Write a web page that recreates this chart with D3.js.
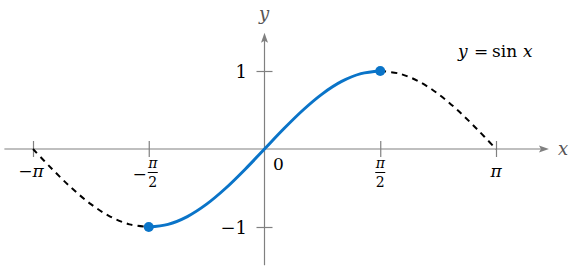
<!DOCTYPE html>
<html>
<head>
<meta charset="utf-8">
<script src="https://cdn.jsdelivr.net/npm/d3@7"></script>
<style>
  body { margin: 0; background: #fff; }
</style>
</head>
<body>
<svg id="chart" width="582" height="271" font-family="'DejaVu Serif', serif"></svg>
<script>
// curve samples, x in steps of pi/12 (k), y = values
const kSteps = [-12, -11, -10, -9, -8, -7, -6, -5, -4, -3, -2, -1, 0, 1, 2, 3, 4, 5, 6, 7, 8, 9, 10, 11, 12];
const yValues = [0, -0.259, -0.5, -0.707, -0.866, -0.966, -1, -0.966, -0.866, -0.707, -0.5, -0.259, 0,
                 0.259, 0.5, 0.707, 0.866, 0.966, 1, 0.966, 0.866, 0.707, 0.5, 0.259, 0];
const xTickK = [-12, -6, 0, 6, 12];
const xTickLabels = ["−π", "−π/2", "", "π/2", "π"];
const yTicks = [-1, 1];
const yTickLabels = ["−1", "1"];
const dotK = [-6, 6];

const PI = Math.PI;
const pts = kSteps.map((k, i) => ({ x: k * PI / 12, y: yValues[i] }));

const svg = d3.select("#chart");
const x = d3.scaleLinear().domain([-PI, PI]).range([33, 496]);
const y = d3.scaleLinear().domain([-1, 1]).range([227, 71]);
const axisCol = "#808080";

// axes lines
svg.append("line")
    .attr("x1", x(-3.53)).attr("x2", x(3.76))
    .attr("y1", y(0)).attr("y2", y(0))
    .attr("stroke", axisCol).attr("stroke-width", 1.2);
svg.append("path")
    .attr("d", `M${x(3.86)},${y(0)} L${x(3.86) - 10},${y(0) - 3.5} L${x(3.86) - 8},${y(0)} L${x(3.86) - 10},${y(0) + 3.5} Z`)
    .attr("fill", axisCol);
svg.append("line")
    .attr("x1", x(0)).attr("x2", x(0))
    .attr("y1", y(-1.49)).attr("y2", y(1.4))
    .attr("stroke", axisCol).attr("stroke-width", 1.2);
svg.append("path")
    .attr("d", `M${x(0)},${y(1.49)} L${x(0) - 3.5},${y(1.49) + 10} L${x(0)},${y(1.49) + 8} L${x(0) + 3.5},${y(1.49) + 10} Z`)
    .attr("fill", axisCol);

// cross ticks via axis generators
svg.append("g")
    .attr("transform", `translate(0,${y(0) - 8})`)
    .call(d3.axisBottom(x).tickValues(xTickK.map(k => k * PI / 12)).tickSize(16).tickSizeOuter(0).tickFormat(""))
    .call(g => g.select(".domain").remove())
    .call(g => g.selectAll("line").attr("stroke", axisCol).attr("stroke-width", 1.2))
    .call(g => g.selectAll(".tick").filter(d => d === 0).remove());
svg.append("g")
    .attr("transform", `translate(${x(0) + 8},0)`)
    .call(d3.axisLeft(y).tickValues(yTicks).tickSize(16).tickSizeOuter(0).tickFormat(""))
    .call(g => g.select(".domain").remove())
    .call(g => g.selectAll("line").attr("stroke", axisCol).attr("stroke-width", 1.2));

// x tick labels
xTickK.forEach((k, i) => {
  const lab = xTickLabels[i];
  if (!lab) return;
  const cx = x(k * PI / 12);
  const neg = lab.startsWith("−");
  if (lab.includes("/2")) {
    const fx = cx + (neg ? 4 : 0);
    if (neg) svg.append("text").attr("x", fx - 6).attr("y", 180).attr("text-anchor", "end")
      .attr("font-size", 17).text("−");
    svg.append("text").attr("x", fx).attr("y", 168).attr("text-anchor", "middle")
      .attr("font-size", 14).attr("font-style", "italic").text("π");
    svg.append("line").attr("x1", fx - 5).attr("x2", fx + 5).attr("y1", 172.5).attr("y2", 172.5)
      .attr("stroke", "#000").attr("stroke-width", 1);
    svg.append("text").attr("x", fx).attr("y", 187).attr("text-anchor", "middle")
      .attr("font-size", 14).text("2");
  } else {
    const t = svg.append("text").attr("x", cx - (neg ? 2 : 0)).attr("y", 177)
      .attr("text-anchor", "middle").attr("font-size", 17);
    if (neg) t.append("tspan").text("−");
    t.append("tspan").attr("font-style", "italic").text("π");
  }
});
svg.append("text").attr("x", 273).attr("y", 170).attr("font-size", 17).text("0");

// y tick labels
yTicks.forEach((v, i) => {
  svg.append("text").attr("x", 247).attr("y", y(v) + 7).attr("text-anchor", "end")
    .attr("font-size", 18).text(yTickLabels[i]);
});

// axis names
svg.append("text").attr("x", 264).attr("y", 20).attr("text-anchor", "middle")
  .attr("font-size", 18).attr("font-style", "italic").attr("fill", "#555").text("y");
svg.append("text").attr("x", 563).attr("y", 155).attr("text-anchor", "middle")
  .attr("font-size", 18).attr("font-style", "italic").attr("fill", "#555").text("x");

// legend
const leg = svg.append("text").attr("y", 57).attr("font-size", 17);
leg.append("tspan").attr("x", 458).attr("font-style", "italic").text("y");
leg.append("tspan").attr("x", 474).text("=");
leg.append("tspan").attr("x", 492).text("sin");
leg.append("tspan").attr("x", 523).attr("font-style", "italic").text("x");

// curve
const line = d3.line().x(d => x(d.x)).y(d => y(d.y)).curve(d3.curveCatmullRom);
const left = pts.filter(d => d.x <= -PI / 2 + 1e-9);
const mid = pts.filter(d => d.x >= -PI / 2 - 1e-9 && d.x <= PI / 2 + 1e-9);
const right = pts.filter(d => d.x >= PI / 2 - 1e-9);
[left, right].forEach(seg => {
  svg.append("path").datum(seg).attr("d", line)
    .attr("fill", "none").attr("stroke", "#000").attr("stroke-width", 2)
    .attr("stroke-dasharray", "6,5");
});
svg.append("path").datum(mid).attr("d", line)
  .attr("fill", "none").attr("stroke", "#0a74c8").attr("stroke-width", 3);

svg.selectAll(".dot").data(dotK).join("circle")
  .attr("cx", k => x(k * PI / 12))
  .attr("cy", k => y(yValues[kSteps.indexOf(k)]))
  .attr("r", 5).attr("fill", "#0a74c8");
</script>
</body>
</html>
